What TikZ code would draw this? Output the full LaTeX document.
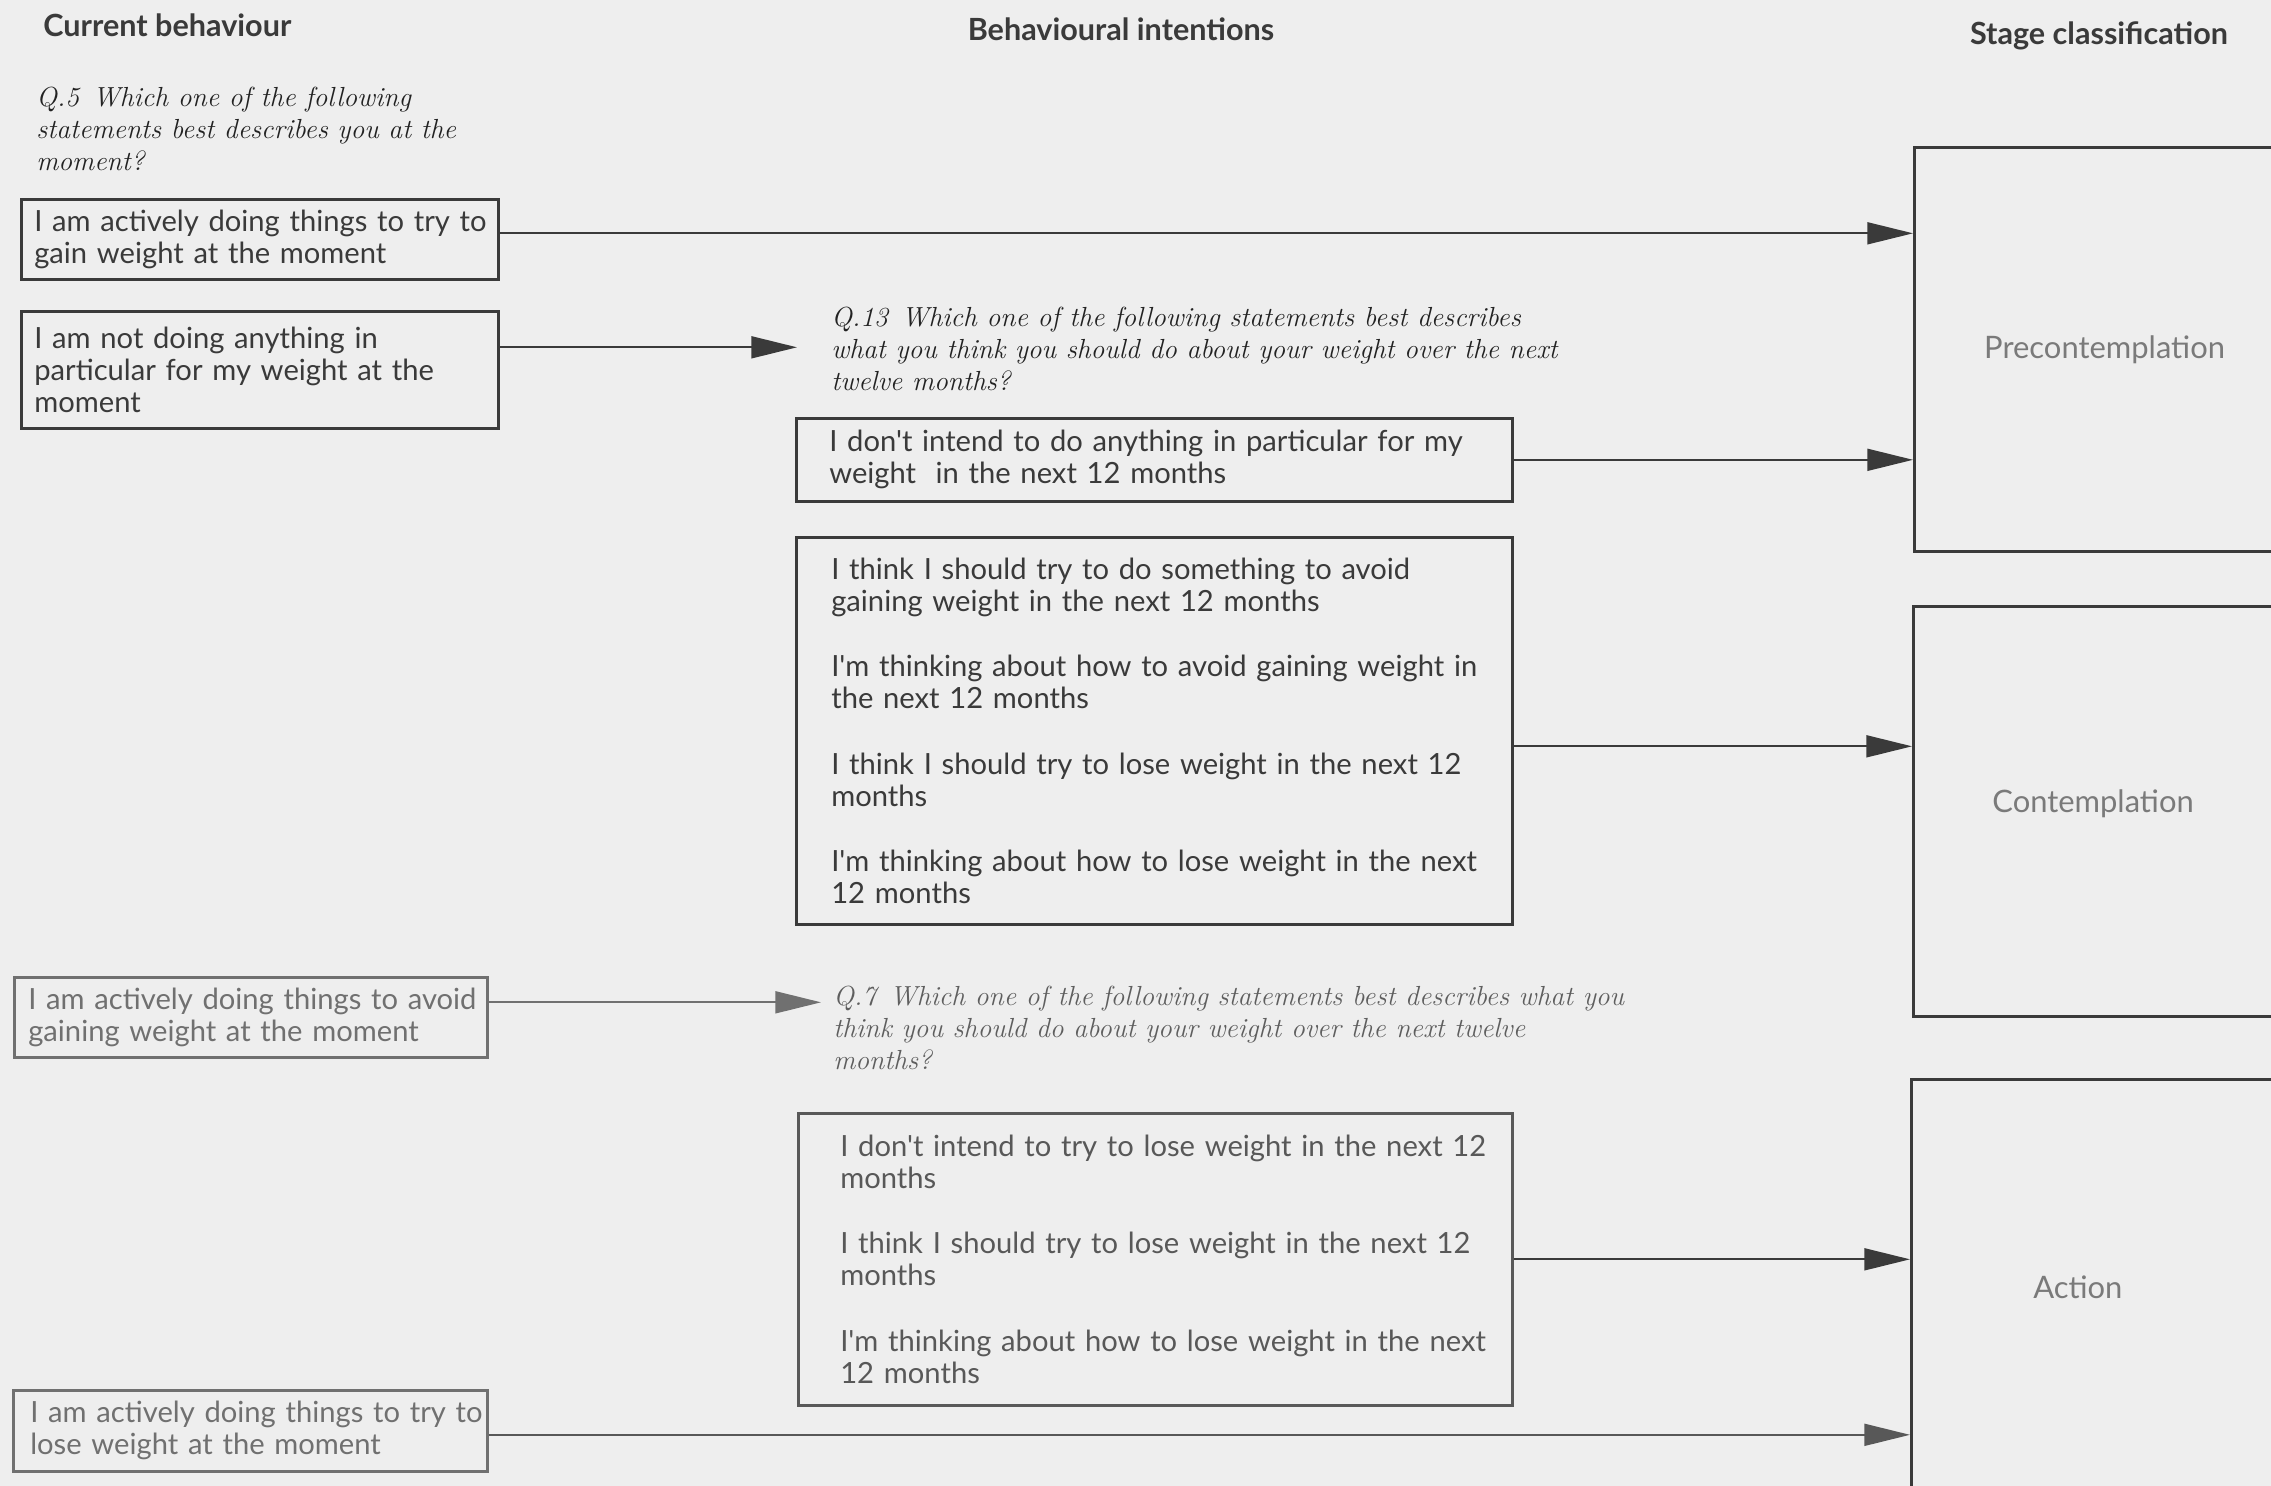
\documentclass[tikz,border=0pt]{standalone}
\usepackage{fontspec}
\newfontfamily\bodyfont{Lato}
\usetikzlibrary{arrows.meta,calc}
\definecolor{bg}{HTML}{EEEEEE}
\definecolor{ink}{HTML}{3A3A3A}
\definecolor{qink}{HTML}{222222}
\definecolor{inkmid}{HTML}{585858}
\definecolor{inklight}{HTML}{707070}
\definecolor{qlight}{HTML}{5E5E5E}
\definecolor{stagetext}{HTML}{7A7A7A}
\newcommand\Lr[1]{\mbox{#1}}
\begin{document}
\begin{tikzpicture}[x=0.2mm,y=-0.2mm,
  heading/.style={font=\bodyfont\bfseries\fontsize{17.4}{20}\selectfont, text=ink, inner sep=0pt},
  qtext/.style={font=\itshape\addfontfeatures{FakeBold=0.5}\fontsize{15.7}{18.2}\selectfont, align=left, inner xsep=0pt, inner ysep=0pt, anchor=west},
  optbox/.style={draw=ink, line width=1.5pt, font=\bodyfont\fontsize{16.6}{18.2}\selectfont, text=ink, align=left, anchor=north west, inner ysep=0pt},
  stagebox/.style={draw=ink, line width=1.8pt, font=\bodyfont\fontsize{17.6}{20}\selectfont, text=stagetext, anchor=north west, minimum width=76mm, inner sep=0pt},
  arr/.style={draw=ink, line width=1.1pt, -{Triangle[length=26pt,width=12.5pt]}},
]
\fill[bg] (0,0) rectangle (2271,1486);
\useasboundingbox (0,0) rectangle (2271,1486);

% headings
\node[heading, anchor=west] (h1) at (43,25) {Current behaviour};
\node[heading] (h2) at (1121,29) {Behavioural intentions};
\node[heading] (h3) at (2099,36) {Stage classification};

% questions
\node[qtext, text=qink] (q5) at (36,129) {Q.5\enspace Which one of the following\\statements best describes you at the\\moment?};
\node[qtext, text=qink, inner xsep=6.8mm] (q13) at (797,349) {Q.13\enspace Which one of the following statements best describes\\what you think you should do about your weight over the next\\twelve months?};
\node[qtext, text=qlight, inner xsep=2.4mm] (q7) at (821,1028) {Q.7\enspace Which one of the following statements best describes what you\\think you should do about your weight over the next twelve\\months?};

% current behaviour boxes
\node[optbox, text width=90.2mm, inner xsep=2.6mm, minimum height=16mm] (ba) at (20,198)
  {\Lr{I am actively doing things to try to}\\\Lr{gain weight at the moment}};
\node[optbox, text width=90.2mm, inner xsep=2.6mm, minimum height=23.4mm] (bb) at (20,310)
  {\Lr{I am not doing anything in}\\\Lr{particular for my weight at the}\\\Lr{moment}};
\node[optbox, draw=inklight, text=inklight, text width=89mm, inner xsep=2.8mm, minimum height=16mm] (bc) at (13,976)
  {\Lr{I am actively doing things to avoid}\\\Lr{gaining weight at the moment}};
\node[optbox, draw=inklight, text=inklight, text width=88mm, inner xsep=3.4mm, minimum height=16.2mm] (bd) at (12,1389)
  {\Lr{I am actively doing things to try to}\\\Lr{lose weight at the moment}};

% intention boxes
\node[optbox, text width=130mm, inner xsep=6.6mm, minimum height=16.6mm] (be) at (795,417)
  {\Lr{I don't intend to do anything in particular for my}\\\Lr{weight~ in the next 12 months}};
\node[optbox, text width=129.2mm, inner xsep=7mm, minimum height=77.4mm] (bf) at (795,536)
  {\Lr{I think I should try to do something to avoid}\\\Lr{gaining weight in the next 12 months}\\[19pt]
   \Lr{I'm thinking about how to avoid gaining weight in}\\\Lr{the next 12 months}\\[19pt]
   \Lr{I think I should try to lose weight in the next 12}\\\Lr{months}\\[19pt]
   \Lr{I'm thinking about how to lose weight in the next}\\\Lr{12 months}};
\node[optbox, draw=inkmid, text=inkmid, text width=126mm, inner xsep=8.4mm, minimum height=58.4mm] (bg) at (797,1112)
  {\Lr{I don't intend to try to lose weight in the next 12}\\\Lr{months}\\[19pt]
   \Lr{I think I should try to lose weight in the next 12}\\\Lr{months}\\[19pt]
   \Lr{I'm thinking about how to lose weight in the next}\\\Lr{12 months}};

% stage boxes
\node[stagebox, minimum height=80.8mm] (pre) at (1913,146) {\raisebox{0.9mm}{Precontemplation}};
\node[stagebox, minimum height=82mm] (con) at (1912,605) {\raisebox{4.3mm}{Contemplation}\hspace*{12pt}};
\node[stagebox, minimum height=83.2mm] (act) at (1910,1078) {Action\hspace*{27pt}};

% connectors
\draw[arr] ([yshift=1.2mm]ba.east) -- ([yshift=1.2mm]ba.east -| pre.west);
\draw[arr] ([yshift=4.5mm]bb.east) -- ([yshift=4.5mm]bb.east -| q13.west);
\draw[arr] (be.east) -- (be.east -| pre.west);
\draw[arr] ([yshift=-3.1mm]bf.east) -- ([yshift=-3.1mm]bf.east -| con.west);
\draw[arr, draw=inklight, fill=inklight] ([yshift=3mm]bc.east) -- ([yshift=3mm]bc.east -| q7.west);
\draw[arr] (bg.east) -- (bg.east -| act.west);
\draw[arr, draw=inkmid] ([yshift=-0.8mm]bd.east) -- ([yshift=-0.8mm]bd.east -| act.west);
\end{tikzpicture}
\end{document}
